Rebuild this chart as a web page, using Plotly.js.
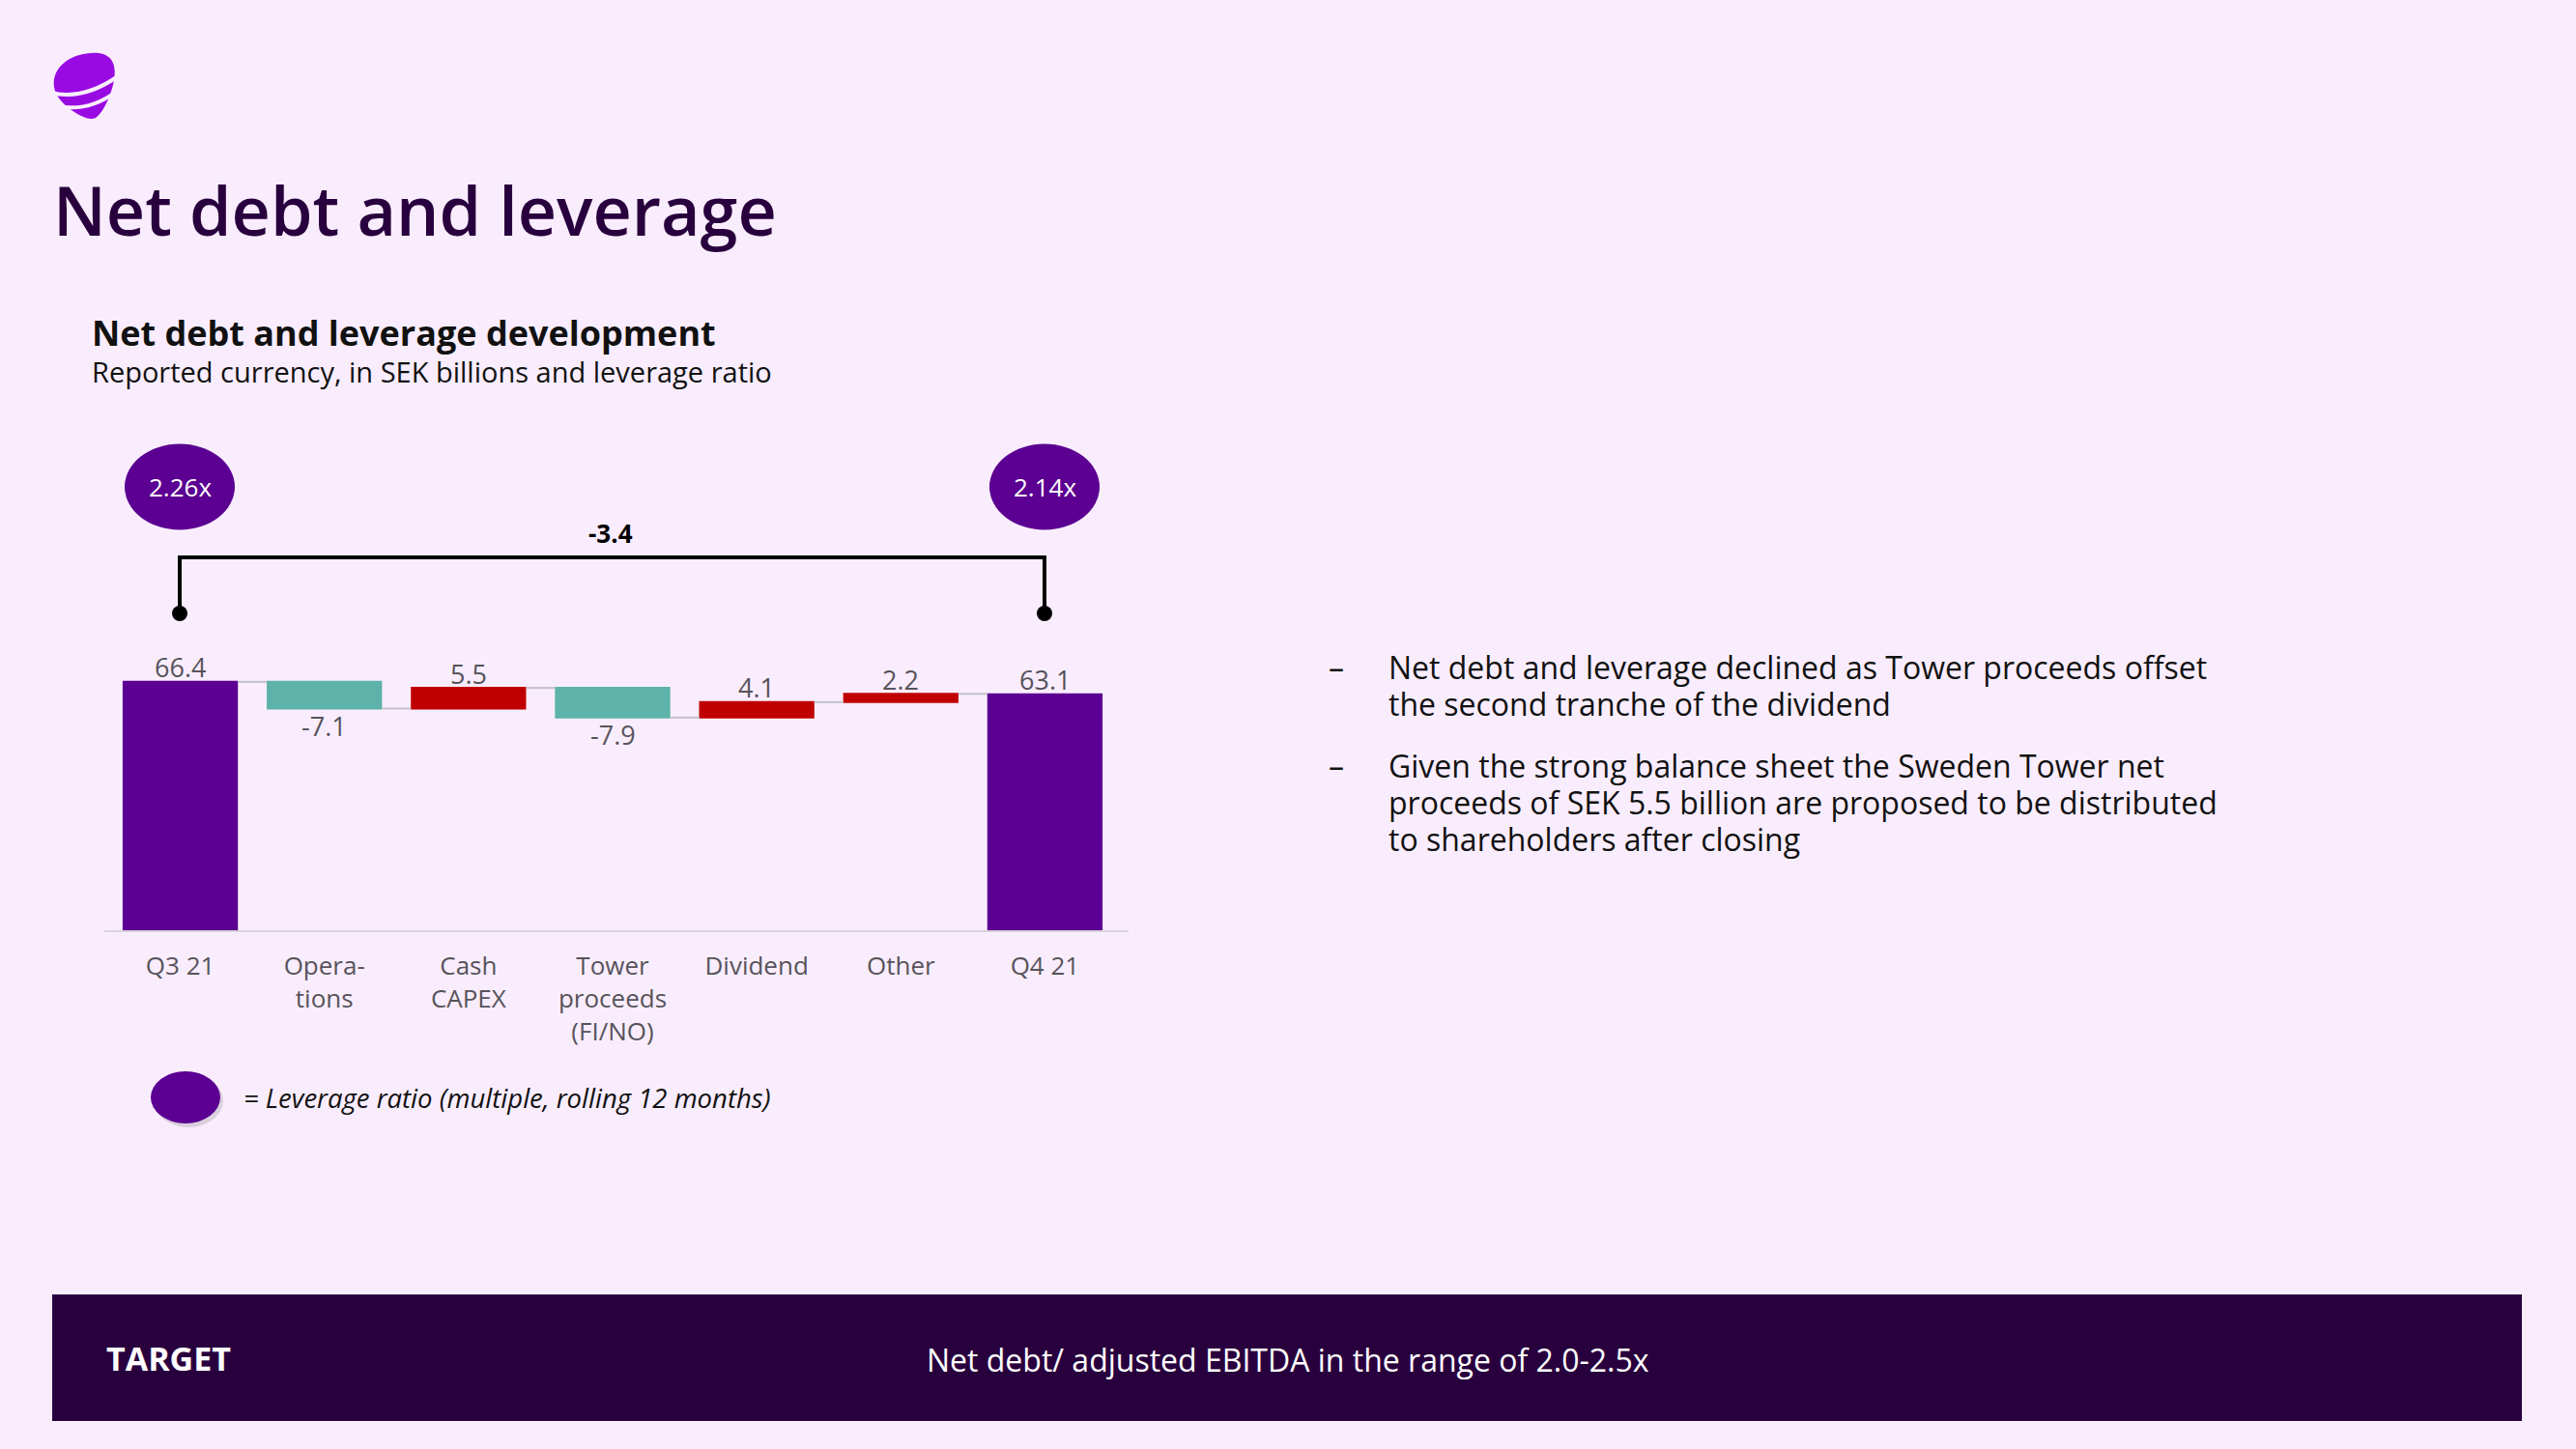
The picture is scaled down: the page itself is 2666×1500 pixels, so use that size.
<!DOCTYPE html>
<html>
<head>
<meta charset="utf-8">
<script src="https://cdn.plot.ly/plotly-3.0.1.min.js"></script>
<style>
  html, body { margin: 0; padding: 0; background: #F9EDFD; }
  #chart { width: 2666px; height: 1500px; }
</style>
</head>
<body>
<div id="chart"></div>
<script>
// ---------- DATA ----------
const categories = ['Q3 21', 'Opera-<br>tions', 'Cash<br>CAPEX', 'Tower<br>proceeds<br>(FI/NO)', 'Dividend', 'Other', 'Q4 21'];
const values = [66.4, -7.1, 5.5, -7.9, 4.1, 2.2, 63.1];
const measures = ['absolute', 'relative', 'relative', 'relative', 'relative', 'relative', 'absolute'];
const leverageLabels = ['2.26x', '2.14x'];
const netDebtChange = ['-3.4'];
const bullets = [
  ['Net debt and leverage declined as Tower proceeds offset', 'the second tranche of the dividend'],
  ['Given the strong balance sheet the Sweden Tower net', 'proceeds of SEK 5.5 billion are proposed to be distributed', 'to shareholders after closing']
];
const targetLabel = 'TARGET';
const targetText = 'Net debt/ adjusted EBITDA in the range of 2.0-2.5x';

// ---------- LAYOUT GEOMETRY (pixels) ----------
const FIG_W = 2666, FIG_H = 1500;
const L = 112, W = 1044, B = 964, H = 311;
const T = B - H;
const px = x => (x - L) / W;
const py = y => (B - y) / H;

const BG = '#F9EDFD';
const PURPLE = '#5B0092';
const DARK = '#29003E';
const FONT = '"Open Sans", Lato, sans-serif';
const GREY_TXT = '#57535B';

function pathPx(cmds) {
  return cmds.map(c => {
    const op = c[0];
    const nums = c.slice(1);
    const out = [];
    for (let i = 0; i < nums.length; i += 2) {
      out.push(px(nums[i]).toFixed(5) + ',' + py(nums[i + 1]).toFixed(5));
    }
    return op + ' ' + out.join(' ');
  }).join(' ') + (cmds.closed ? ' Z' : '');
}

const shapes = [];
const annotations = [];

// logo
const logoBody = [['M', 56, 90], ['C', 53, 67, 78, 53, 102, 55], ['C', 119, 57, 121, 72, 117, 88],
                  ['C', 113, 103, 107, 116, 99, 122], ['C', 92, 125, 83, 120, 74, 114], ['C', 63, 106, 57, 98, 56, 90]];
logoBody.closed = true;
shapes.push({type: 'path', xref: 'paper', yref: 'paper', path: pathPx(logoBody),
  fillcolor: '#990AE3', line: {width: 0}, layer: 'above'});
shapes.push({type: 'path', xref: 'paper', yref: 'paper',
  path: pathPx([['M', 53, 96], ['Q', 86, 104, 122, 79]]), line: {color: BG, width: 4}, layer: 'above'});
shapes.push({type: 'path', xref: 'paper', yref: 'paper',
  path: pathPx([['M', 60, 110], ['Q', 92, 116, 120, 95]]), line: {color: BG, width: 4}, layer: 'above'});

// title texts
annotations.push({xref: 'paper', yref: 'paper', x: px(53), y: py(217), xanchor: 'left', yanchor: 'middle',
  text: 'Net debt and leverage', showarrow: false, font: {family: FONT, size: 70, color: DARK, weight: 600}});
annotations.push({xref: 'paper', yref: 'paper', x: px(93), y: py(344), xanchor: 'left', yanchor: 'middle',
  text: '<b>Net debt and leverage development</b>', showarrow: false, font: {family: FONT, size: 36, color: '#111111'}});
annotations.push({xref: 'paper', yref: 'paper', x: px(93), y: py(384), xanchor: 'left', yanchor: 'middle',
  text: 'Reported currency, in SEK billions and leverage ratio', showarrow: false, font: {family: FONT, size: 29, color: '#111111'}});

// x axis baseline
shapes.push({type: 'line', xref: 'paper', yref: 'paper', x0: px(108), x1: px(1168), y0: py(964), y1: py(964),
  line: {color: '#D9D3DD', width: 2}});

// leverage bubbles
const bubbleX = [186, 1081];
bubbleX.forEach((cx, i) => {
  shapes.push({type: 'circle', xref: 'paper', yref: 'paper', x0: px(cx - 57), x1: px(cx + 57), y0: py(504 + 44.5), y1: py(504 - 44.5),
    fillcolor: PURPLE, line: {width: 0}});
  annotations.push({xref: 'paper', yref: 'paper', x: px(cx), y: py(504), xanchor: 'center', yanchor: 'middle',
    text: leverageLabels[i], showarrow: false, font: {family: FONT, size: 26, color: '#FFFFFF'}});
});

// bracket
shapes.push({type: 'path', xref: 'paper', yref: 'paper',
  path: pathPx([['M', 186, 635], ['L', 186, 577], ['L', 1081, 577], ['L', 1081, 635]]),
  line: {color: '#000000', width: 4}});
bubbleX.forEach(cx => {
  shapes.push({type: 'circle', xref: 'paper', yref: 'paper', x0: px(cx - 8), x1: px(cx + 8), y0: py(635 + 8), y1: py(635 - 8),
    fillcolor: '#000000', line: {width: 0}});
});
annotations.push({xref: 'paper', yref: 'paper', x: px(632), y: py(552), xanchor: 'center', yanchor: 'middle',
  text: '<b>' + netDebtChange[0] + '</b>', showarrow: false, font: {family: FONT, size: 26, color: '#000000'}});

// value labels, anchored to the bar ends in data coordinates
let running = 0;
values.forEach((v, i) => {
  let lo, hi, above;
  if (measures[i] === 'absolute') { lo = 0; hi = v; running = v; above = true; }
  else { const s = running; running = s + v; lo = Math.min(s, running); hi = Math.max(s, running); above = v >= 0; }
  annotations.push({xref: 'x', yref: 'y', x: categories[i], y: above ? hi : lo, xanchor: 'center', yanchor: 'middle',
    yshift: above ? 15 : -18, text: v.toFixed(1), showarrow: false,
    font: {family: FONT, size: 27, color: GREY_TXT}});
});

// legend
shapes.push({type: 'circle', xref: 'paper', yref: 'paper', x0: px(159), x1: px(231), y0: py(1167), y1: py(1112),
  fillcolor: 'rgba(0,0,0,0.12)', line: {width: 0}});
shapes.push({type: 'circle', xref: 'paper', yref: 'paper', x0: px(156), x1: px(228), y0: py(1163), y1: py(1109),
  fillcolor: PURPLE, line: {width: 0}});
annotations.push({xref: 'paper', yref: 'paper', x: px(250), y: py(1136), xanchor: 'left', yanchor: 'middle',
  text: '<i>= Leverage ratio (multiple, rolling 12 months)</i>', showarrow: false, font: {family: FONT, size: 27.5, color: '#111111'}});

// bullets
const bulletLineY = [[690, 728], [792, 830, 868]];
bullets.forEach((lines, bi) => {
  annotations.push({xref: 'paper', yref: 'paper', x: px(1373), y: py(bulletLineY[bi][0]), xanchor: 'left', yanchor: 'middle',
    text: '–', showarrow: false, font: {family: FONT, size: 32, color: '#111111'}});
  lines.forEach((ln, li) => {
    annotations.push({xref: 'paper', yref: 'paper', x: px(1435), y: py(bulletLineY[bi][li]), xanchor: 'left', yanchor: 'middle',
      text: ln, showarrow: false, font: {family: FONT, size: 32, color: '#111111'}});
  });
});

// target band
shapes.push({type: 'rect', xref: 'paper', yref: 'paper', x0: px(54), x1: px(2610), y0: py(1471), y1: py(1340),
  fillcolor: DARK, line: {width: 0}, layer: 'below'});
annotations.push({xref: 'paper', yref: 'paper', x: px(108), y: py(1406), xanchor: 'left', yanchor: 'middle',
  text: '<b>' + targetLabel + '</b>', showarrow: false, font: {family: FONT, size: 34, color: '#FFFFFF'}});
annotations.push({xref: 'paper', yref: 'paper', x: px(1333), y: py(1407), xanchor: 'center', yanchor: 'middle',
  text: targetText, showarrow: false, font: {family: FONT, size: 32, color: '#FFFFFF'}});

// ---------- TRACE ----------
const trace = {
  type: 'waterfall',
  x: categories,
  y: values,
  measure: measures,
  textinfo: 'none',
  increasing: {marker: {color: '#C00000'}},
  decreasing: {marker: {color: '#5DB2A9'}},
  totals: {marker: {color: PURPLE}},
  connector: {line: {color: '#C4C0C8', width: 2}, mode: 'between'},
  hoverinfo: 'skip'
};

const layout = {
  width: FIG_W, height: FIG_H,
  margin: {l: L, r: FIG_W - L - W, t: T, b: FIG_H - B, pad: 0},
  paper_bgcolor: BG, plot_bgcolor: BG,
  showlegend: false,
  bargap: 1 - 124 / (W / 7),
  font: {family: FONT},
  xaxis: {
    type: 'category', range: [-0.5, 6.5], fixedrange: true,
    showline: false, showgrid: false, zeroline: false, ticks: '',
    ticklabelstandoff: 18,
    tickfont: {family: FONT, size: 26, color: GREY_TXT}
  },
  yaxis: {
    range: [0, 80], fixedrange: true, visible: false, showgrid: false, zeroline: false
  },
  shapes: shapes,
  annotations: annotations
};

Plotly.newPlot('chart', [trace], layout, {displayModeBar: false, staticPlot: true});
</script>
</body>
</html>
